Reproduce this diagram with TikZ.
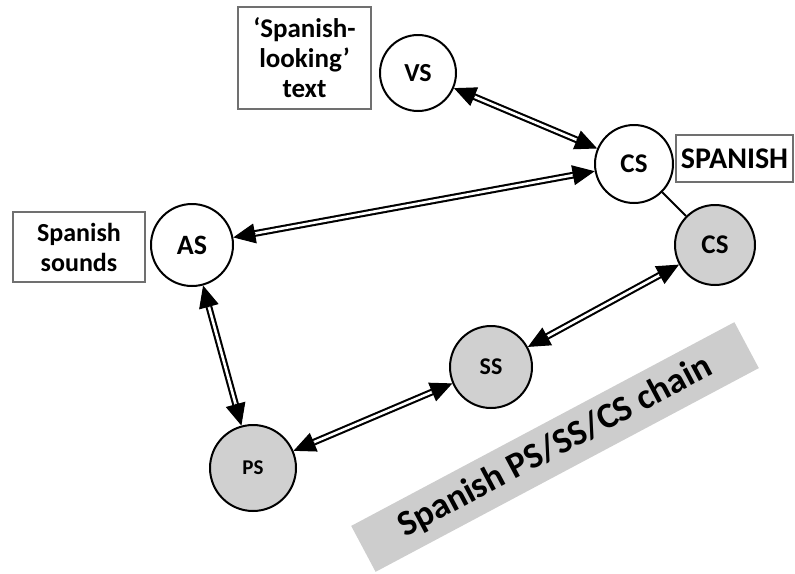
\documentclass[tikz,border=0pt]{standalone}
\usepackage{fontspec}
\setmainfont{Carlito}
\usetikzlibrary{arrows.meta,calc}
\definecolor{nodegray}{HTML}{D0D0D0}
\definecolor{boxedge}{HTML}{707070}
\definecolor{bannergray}{HTML}{CDCDCD}
\newcommand\fsz[1]{\fontsize{#1}{#1}\selectfont\bfseries}
\tikzset{
  circ/.style={circle, draw=black, line width=2pt, inner sep=0pt, font=\fsz{26}},
  wcirc/.style={circ, fill=white},
  gcirc/.style={circ, fill=nodegray},
  lbox/.style={draw=boxedge, line width=2.2pt, fill=white, inner sep=0pt, align=center, font=\fontsize{26}{30}\selectfont\bfseries},
  dblline/.style={double=white, draw=black, line width=2.1pt, double distance=2.6pt},
  tipline/.style={draw=black, line width=1pt, -{Triangle[length=22pt,width=20pt]}},
}
\newcommand\dlink[2]{%
  \path (#1) -- (#2) coordinate[pos=0] (#1-#2-s) coordinate[pos=1] (#1-#2-e);
  \draw[dblline] ($(#1-#2-s)!21pt!(#1-#2-e)$) -- ($(#1-#2-e)!21pt!(#1-#2-s)$);
  \draw[tipline] ($(#1-#2-e)!22.5pt!(#1-#2-s)$) -- (#1-#2-e);
  \draw[tipline] ($(#1-#2-s)!22.5pt!(#1-#2-e)$) -- (#1-#2-s);
}
\begin{document}
\begin{tikzpicture}[x=1pt,y=-1pt]
\useasboundingbox (0,0) rectangle (795,573);
% banner
\node[fill=bannergray, rotate=28, minimum width=434, minimum height=52, inner sep=0pt,
  font=\fsz{36}] (banner) at (555,447) {Spanish PS/SS/CS chain};
% label boxes
\node[lbox, minimum width=133, minimum height=102, font=\fontsize{27}{30}\selectfont\bfseries] (tbox) at (304.5,58) {‘Spanish-\\looking’\\text};
\node[lbox, minimum width=132, minimum height=70] (sbox) at (79,247) {Spanish\\sounds};
\node[lbox, minimum width=117, minimum height=47, font=\fsz{30}] (spbox) at (734.5,158.5) {SPANISH};
% circles
\node[wcirc, minimum size=76] (vs) at (418,73) {VS};
\node[wcirc, minimum size=78, font=\fsz{27}] (csw) at (634,164) {CS};
\node[gcirc, minimum size=80, font=\fsz{27}] (csg) at (715,245) {CS};
\node[wcirc, minimum size=82, font=\fsz{28}] (as) at (192,245) {AS};
\node[gcirc, minimum size=82, font=\fsz{24}] (ss) at (491,367) {SS};
\node[gcirc, minimum size=86, font=\fsz{21}] (ps) at (253,468) {PS};
% connectors
\draw[line width=2pt] (csw) -- (csg);
\dlink{vs}{csw}
\dlink{as}{csw}
\dlink{as}{ps}
\dlink{ps}{ss}
\dlink{ss}{csg}
\end{tikzpicture}
\end{document}
